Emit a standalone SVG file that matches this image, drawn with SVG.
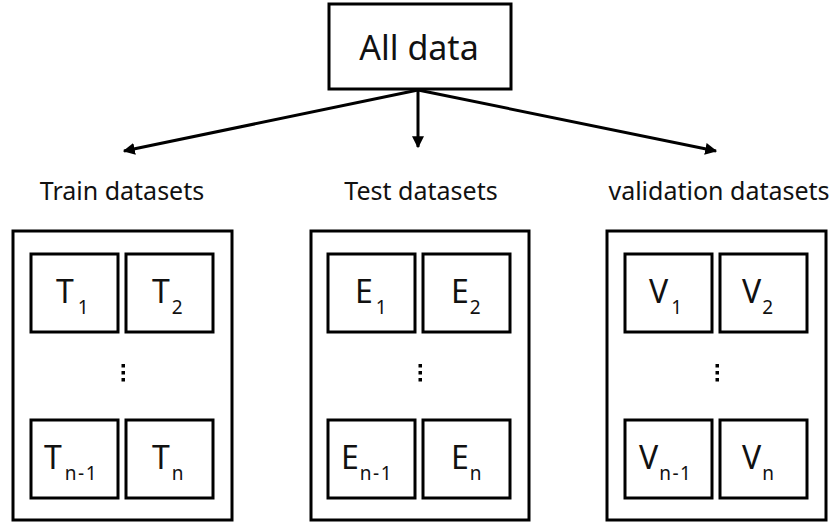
<svg xmlns="http://www.w3.org/2000/svg" width="832" height="523" viewBox="0 0 832 523">
<defs>
<style>
.box{fill:#fff;stroke:#000;stroke-width:3}
.t{font-family:"Noto Sans","Liberation Sans",sans-serif;fill:#111}
.main{font-size:32px}
.sub{font-size:19px;letter-spacing:1.5px}
.lbl{font-size:25px}
.con{stroke:#000;stroke-width:3;fill:none}
</style>
<marker id="ah" viewBox="0 0 10 10" refX="9" refY="5" markerWidth="4" markerHeight="4" orient="auto" markerUnits="strokeWidth">
<path d="M0,0 L10,5 L0,10 z" fill="#000"/>
</marker>
</defs>
<g id="all-data">
<rect class="box" x="329" y="4" width="182" height="85"/>
<text class="t" x="419" y="60" font-size="34" text-anchor="middle">All data</text>
</g>
<g id="connectors">
<line class="con" x1="418" y1="90" x2="124" y2="151" marker-end="url(#ah)"/>
<line class="con" x1="418" y1="90" x2="418" y2="147" marker-end="url(#ah)"/>
<line class="con" x1="418" y1="90" x2="716" y2="151" marker-end="url(#ah)"/>
</g>
<g id="train">
<text class="t lbl" x="122" y="200" text-anchor="middle">Train datasets</text>
<rect class="box" x="13" y="231" width="219" height="289"/>
<g id="t1"><rect class="box" x="31" y="254" width="87" height="78"/><text class="t" x="56" y="303"><tspan class="main">T</tspan><tspan class="sub" dx="4" dy="11">1</tspan></text></g>
<g id="t2"><rect class="box" x="126" y="254" width="87" height="78"/><text class="t" x="152" y="303"><tspan class="main">T</tspan><tspan class="sub" dx="2" dy="11">2</tspan></text></g>
<g fill="#000"><rect x="121.5" y="364" width="3.5" height="3.5"/><rect x="121.5" y="371" width="3.5" height="3.5"/><rect x="121.5" y="378" width="3.5" height="3.5"/></g>
<g id="tn1"><rect class="box" x="31" y="420" width="87" height="78"/><text class="t" x="44" y="469"><tspan class="main">T</tspan><tspan class="sub" dx="3" dy="11">n-1</tspan></text></g>
<g id="tn"><rect class="box" x="126" y="420" width="87" height="78"/><text class="t" x="152" y="469"><tspan class="main">T</tspan><tspan class="sub" dx="2" dy="11">n</tspan></text></g>
</g>
<g id="test">
<text class="t lbl" x="421" y="200" text-anchor="middle">Test datasets</text>
<rect class="box" x="311" y="231" width="218" height="289"/>
<g id="e1"><rect class="box" x="328" y="254" width="87" height="78"/><text class="t" x="355" y="303"><tspan class="main">E</tspan><tspan class="sub" dx="3" dy="11">1</tspan></text></g>
<g id="e2"><rect class="box" x="423" y="254" width="87" height="78"/><text class="t" x="451" y="303"><tspan class="main">E</tspan><tspan class="sub" dx="1" dy="11">2</tspan></text></g>
<g fill="#000"><rect x="418.5" y="364" width="3.5" height="3.5"/><rect x="418.5" y="371" width="3.5" height="3.5"/><rect x="418.5" y="378" width="3.5" height="3.5"/></g>
<g id="en1"><rect class="box" x="328" y="420" width="87" height="78"/><text class="t" x="341" y="469"><tspan class="main">E</tspan><tspan class="sub" dx="1" dy="11">n-1</tspan></text></g>
<g id="en"><rect class="box" x="423" y="420" width="87" height="78"/><text class="t" x="451" y="469"><tspan class="main">E</tspan><tspan class="sub" dx="1" dy="11">n</tspan></text></g>
</g>
<g id="validation">
<text class="t lbl" x="719" y="200" text-anchor="middle">validation datasets</text>
<rect class="box" x="607" y="231" width="219" height="289"/>
<g id="v1"><rect class="box" x="625" y="254" width="87" height="78"/><text class="t" x="649" y="303"><tspan class="main">V</tspan><tspan class="sub" dx="3" dy="11">1</tspan></text></g>
<g id="v2"><rect class="box" x="720" y="254" width="87" height="78"/><text class="t" x="742" y="303"><tspan class="main">V</tspan><tspan class="sub" dx="1" dy="11">2</tspan></text></g>
<g fill="#000"><rect x="715.5" y="364" width="3.5" height="3.5"/><rect x="715.5" y="371" width="3.5" height="3.5"/><rect x="715.5" y="378" width="3.5" height="3.5"/></g>
<g id="vn1"><rect class="box" x="625" y="420" width="87" height="78"/><text class="t" x="639" y="469"><tspan class="main">V</tspan><tspan class="sub" dx="1" dy="11">n-1</tspan></text></g>
<g id="vn"><rect class="box" x="720" y="420" width="87" height="78"/><text class="t" x="742" y="469"><tspan class="main">V</tspan><tspan class="sub" dx="1" dy="11">n</tspan></text></g>
</g>
</svg>
